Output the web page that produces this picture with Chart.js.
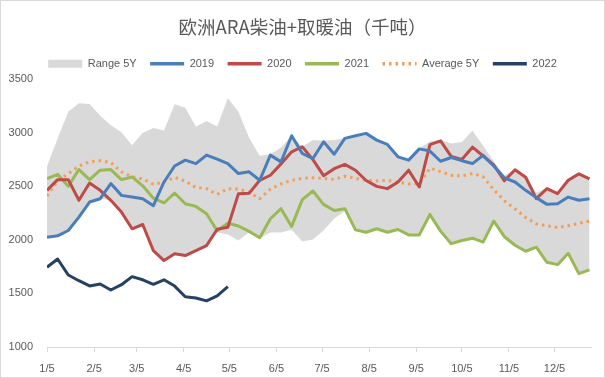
<!DOCTYPE html>
<html><head><meta charset="utf-8">
<script src="https://cdn.jsdelivr.net/npm/chart.js@4.4.1/dist/chart.umd.min.js"></script>
<style>html,body{margin:0;padding:0;background:#fff}canvas{display:block}</style>
</head><body>
<canvas id="c" width="605" height="378"></canvas>
<script>
// Weekly observation dates (M/D)
const weeks = ['1/5','1/12','1/19','1/26','2/2','2/9','2/16','2/23','3/2','3/9','3/16','3/23','3/30',
  '4/6','4/13','4/20','4/27','5/4','5/11','5/18','5/25','6/1','6/8','6/15','6/22','6/29',
  '7/6','7/13','7/20','7/27','8/3','8/10','8/17','8/24','8/31','9/7','9/14','9/21','9/28',
  '10/5','10/12','10/19','10/26','11/2','11/9','11/16','11/23','11/30','12/7','12/14','12/21','12/28'];
const xTickLabels = ['1/5','2/5','3/5','4/5','5/5','6/5','7/5','8/5','9/5','10/5','11/5','12/5'];
const yTickValues = [1000,1500,2000,2500,3000,3500];

const range5yLow = [2025,2038,2088,2213,2354,2385,2370,2260,2104,2144,1900,1807,1870,1854,1900,1947,2072,2050,
  1994,2072,2016,2070,2070,2095,1985,2004,2088,2200,2270,2094,2072,2104,2072,2097,2047,2047,
  2238,2082,1965,1994,2016,1980,2176,2030,1950,1894,1932,1791,1769,1875,1685,1720];
const range5yHigh = [2688,2948,3198,3276,3270,3160,3070,3005,2885,3001,3045,3022,3268,3235,3057,3111,3060,3323,
  3198,2955,2785,2800,2863,2973,2870,2932,2925,2932,2950,2975,2995,2935,2895,2780,2750,2855,
  2920,2935,2900,2915,3020,2880,2735,2600,2660,2595,2440,2485,2440,2560,2620,2580];
const s2019 = [2025,2038,2088,2213,2354,2385,2526,2416,2400,2385,2320,2541,2690,2745,2713,2792,2754,2713,
  2620,2636,2557,2792,2729,2973,2807,2760,2916,2800,2948,2973,2995,2932,2892,2776,2745,2850,
  2830,2735,2770,2740,2713,2790,2690,2580,2541,2463,2395,2332,2338,2400,2370,2385];
const s2020 = [2463,2563,2563,2370,2532,2463,2370,2260,2104,2144,1900,1807,1870,1854,1900,1947,2100,2119,
  2432,2435,2557,2604,2710,2823,2870,2750,2600,2665,2705,2651,2555,2500,2479,2541,2651,2494,
  2890,2925,2780,2752,2866,2784,2700,2552,2655,2585,2385,2479,2432,2557,2617,2570];
const s2021 = [2573,2613,2501,2657,2563,2651,2657,2563,2588,2505,2390,2345,2438,2338,2313,2245,2085,2155,
  2130,2080,2020,2198,2292,2126,2376,2457,2332,2275,2292,2094,2072,2104,2072,2097,2047,2047,
  2238,2082,1965,1994,2016,1980,2176,2030,1950,1894,1932,1791,1769,1875,1685,1720];
const avg5y = [2410,2551,2620,2690,2730,2740,2722,2635,2590,2570,2520,2540,2585,2548,2490,2479,2425,2479,
  2475,2445,2385,2475,2523,2557,2575,2580,2575,2565,2595,2575,2557,2551,2557,2540,2522,2525,
  2670,2638,2604,2597,2620,2590,2470,2365,2290,2210,2150,2132,2115,2132,2155,2175];
const s2022 = [1745,1822,1672,1619,1570,1588,1532,1582,1657,1628,1585,1628,1569,1469,1457,1431,1478,1563];

const monthStart = [0,31,59,90,120,151,181,212,243,273,304,334];
function dayOf(s){ const p = s.split('/').map(Number); return monthStart[p[0]-1] + p[1]; }
const xs = weeks.map(dayOf);
const pts = arr => arr.map((v,i) => ({x: xs[i], y: v}));
const xTickVals = xTickLabels.map(dayOf);

const TXT = '#595959';
const FONT = "'Liberation Sans', Arial, sans-serif";

const frame = {
  id: 'frame',
  afterDraw(chart){
    const c = chart.ctx; c.save();
    c.strokeStyle = '#d9d9d9'; c.lineWidth = 1;
    c.strokeRect(0.5, 0.5, chart.width - 1, chart.height - 1);
    c.restore();
  }
};

const lineDs = (label, data, color, extra) => Object.assign({
  label, data: pts(data), borderColor: color, backgroundColor: color,
  borderWidth: 3, pointRadius: 0, tension: 0, fill: false, borderJoinStyle: 'round'
}, extra || {});

new Chart(document.getElementById('c'), {
  type: 'line',
  data: {
    datasets: [
      { label: 'low', data: pts(range5yLow), borderWidth: 0, pointRadius: 0, fill: false, borderColor: 'rgba(0,0,0,0)' },
      { label: 'Range 5Y', data: pts(range5yHigh), borderWidth: 0, pointRadius: 0, fill: '-1',
        backgroundColor: '#d9d9d9', borderColor: 'rgba(0,0,0,0)' },
      lineDs('2019', s2019, '#4a7ebb'),
      lineDs('2020', s2020, '#be4b48'),
      lineDs('2021', s2021, '#98b954'),
      lineDs('Average 5Y', avg5y, '#f59d56', { borderDash: [2.5, 4], borderWidth: 3 }),
      lineDs('2022', s2022, '#264163')
    ]
  },
  options: {
    responsive: false,
    animation: false,
    layout: { padding: { left: 0, right: 0, top: 0, bottom: 0 } },
    plugins: {
      filler: { drawTime: 'beforeDatasetsDraw' },
      tooltip: { enabled: false },
      title: {
        display: true,
        text: '欧洲ARA柴油+取暖油（千吨）',
        color: TXT,
        font: { family: "'Noto Sans CJK SC', sans-serif", size: 18.5, weight: 'normal', lineHeight: 1.2 },
        padding: { top: 16, bottom: 6.6 }
      },
      legend: {
        display: true,
        maxHeight: 35,
        labels: {
          color: TXT,
          font: { family: FONT, size: 11 },
          usePointStyle: true,
          pointStyleWidth: 34,
          boxHeight: 8,
          padding: 13.5,
          generateLabels(chart){
            return chart.data.datasets.map((ds, i) => {
              if (i === 0) return null;
              const isRange = i === 1;
              return {
                text: ds.label,
                fillStyle: isRange ? '#d9d9d9' : ds.borderColor,
                strokeStyle: isRange ? '#d9d9d9' : ds.borderColor,
                lineWidth: isRange ? 0 : 3.5,
                lineDash: ds.borderDash || [],
                pointStyle: isRange ? 'rect' : 'line',
                hidden: false,
                datasetIndex: i,
                fontColor: TXT
              };
            }).filter(Boolean);
          }
        }
      }
    },
    scales: {
      x: {
        type: 'linear',
        min: 5, max: 363,
        afterBuildTicks(scale){ scale.ticks = xTickVals.map(v => ({value: v})); },
        afterFit(scale){ scale.height = 31; },
        ticks: {
          autoSkip: false, maxRotation: 0, color: TXT, padding: 10,
          font: { family: FONT, size: 11 },
          callback: (v) => { const k = xTickVals.indexOf(v); return k >= 0 ? xTickLabels[k] : ''; }
        },
        grid: { display: true, drawOnChartArea: false, drawTicks: true, tickLength: 5, color: '#d9d9d9' },
        border: { display: true, color: '#d9d9d9', width: 1 }
      },
      y: {
        min: 1000, max: 3500,
        afterBuildTicks(scale){ scale.ticks = yTickValues.map(v => ({value: v})); },
        afterFit(scale){ scale.width = 47; },
        ticks: { color: TXT, padding: 14, font: { family: FONT, size: 11 }, callback: (v) => String(v) },
        grid: { display: false, drawTicks: false },
        border: { display: false }
      },
      yRight: {
        type: 'linear', position: 'right', display: true,
        afterFit(scale){ scale.width = 14; },
        ticks: { display: false },
        grid: { display: false, drawTicks: false },
        border: { display: false }
      }
    }
  },
  plugins: [frame]
});
</script>
</body></html>
